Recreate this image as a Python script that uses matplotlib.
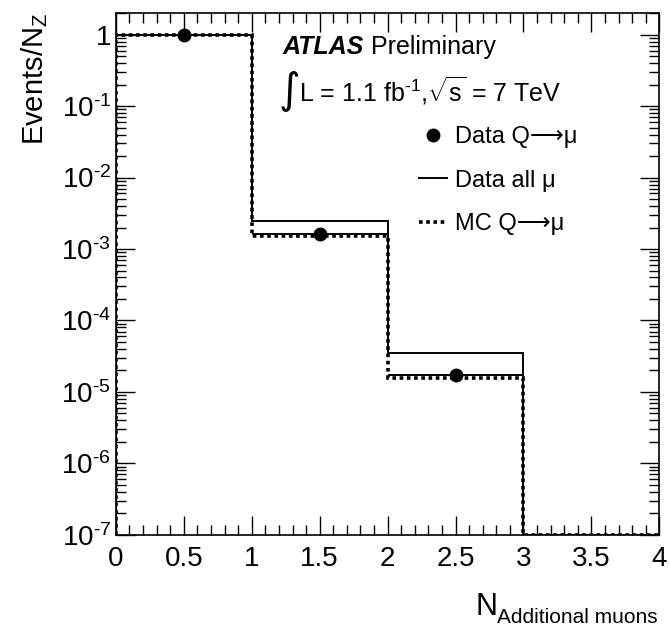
import numpy as np
import matplotlib
matplotlib.use("Agg")
import matplotlib.pyplot as plt
from matplotlib.lines import Line2D
from matplotlib.ticker import MultipleLocator, LogLocator, NullFormatter

plt.rcParams['font.family'] = ['Liberation Sans', 'DejaVu Sans']
plt.rcParams['mathtext.fontset'] = 'custom'
plt.rcParams['mathtext.rm'] = 'Liberation Sans'
plt.rcParams['mathtext.it'] = 'Liberation Sans:italic'
plt.rcParams['mathtext.bf'] = 'Liberation Sans:bold'
plt.rcParams['axes.unicode_minus'] = False

# histogram content, normalised to N_Z
edges = [0, 1, 2, 3, 4]
data_q = [1.0, 1.6e-3, 1.7e-5, 0.0]
data_q_err = [0.0, 0.0, 3e-6, 0.0]
data_all = [1.0, 2.5e-3, 3.5e-5, 0.0]
mc_q = [1.0, 1.5e-3, 1.55e-5, 0.0]

ymin, ymax = 1e-7, 2.0

fig = plt.figure(figsize=(6.7, 6.27), dpi=100)
ax = fig.add_axes([0.173, 0.147, 0.811, 0.832])
ax.set_yscale('log')

ax.stairs(np.clip(data_all, ymin, None), edges, color='black', lw=1.4,
          baseline=ymin)
ax.stairs(np.clip(mc_q, ymin, None), edges, color='black', lw=2.6,
          linestyle=(0, (1, 1)), baseline=ymin)

centers = [(edges[i] + edges[i + 1]) / 2 for i in range(len(data_q))]
xs = [c for c, v in zip(centers, data_q) if v > 0]
ys = [v for v in data_q if v > 0]
es = [e for e, v in zip(data_q_err, data_q) if v > 0]
ax.errorbar(xs, ys, xerr=0.5, yerr=es, fmt='o', color='black', ms=9,
            elinewidth=1.4, capsize=0)

ax.set_xlim(0, 4)
ax.set_ylim(ymin, ymax)
ax.xaxis.set_major_locator(MultipleLocator(0.5))
ax.xaxis.set_minor_locator(MultipleLocator(0.1))
ax.yaxis.set_minor_locator(LogLocator(base=10, subs=np.arange(2, 10), numticks=12))
ax.yaxis.set_minor_formatter(NullFormatter())
ylabs = [r'$10^{\text{-%d}}$' % k for k in range(7, 0, -1)] + ['1']
ax.set_yticks([1e-7, 1e-6, 1e-5, 1e-4, 1e-3, 1e-2, 1e-1, 1], ylabs)
ax.set_xticks([0, 0.5, 1, 1.5, 2, 2.5, 3, 3.5, 4],
              ['0', '0.5', '1', '1.5', '2', '2.5', '3', '3.5', '4'])
ax.tick_params(which='both', direction='in', top=True, right=True,
               labelsize=20, width=1)
ax.tick_params(which='major', length=14)
ax.tick_params(which='minor', length=7)
ax.tick_params(axis='x', pad=8)
for s in ax.spines.values():
    s.set_linewidth(1.2)

ax.set_ylabel('Events/N$_{\\mathrm{Z}}$', fontsize=21, loc='top', labelpad=8)

# x label: big N with a large subscript, right-aligned at the frame edge
sub = fig.text(0.982, 0.007, 'Additional muons', fontsize=15, ha='right',
               va='baseline')
fig.canvas.draw()
bb = sub.get_window_extent()
fig.text(bb.x0 / fig.bbox.width, 0.019, 'N', fontsize=22, ha='right',
         va='baseline')

ax.text(0.306, 0.935, 'ATLAS', transform=ax.transAxes, fontsize=18,
        fontweight='bold', fontstyle='italic', va='center')
ax.text(0.470, 0.935, 'Preliminary', transform=ax.transAxes, fontsize=18,
        va='center')
ax.text(0.300, 0.850, '\u222b', transform=ax.transAxes, fontsize=30,
        va='center', family=['DejaVu Sans'])
ax.text(0.337, 0.852, r'L = 1.1 fb$^{\text{-1}}$,$\sqrt{\mathrm{s}}$ = 7 TeV',
        transform=ax.transAxes, fontsize=18, va='center')

handles = [
    Line2D([], [], marker='o', color='black', ls='none', ms=9),
    Line2D([], [], color='black', lw=1.4),
    Line2D([], [], color='black', lw=2.6, ls=(0, (1, 1))),
]
labels = ['Data Q\u27f6\u03bc', 'Data all \u03bc', 'MC Q\u27f6\u03bc']
ax.legend(handles, labels, loc='upper left', bbox_to_anchor=(0.558, 0.783),
          frameon=False, fontsize=17, handlelength=1.2, handletextpad=0.3,
          labelspacing=0.9, borderaxespad=0, borderpad=0)

fig.savefig('out.png', dpi=100)
